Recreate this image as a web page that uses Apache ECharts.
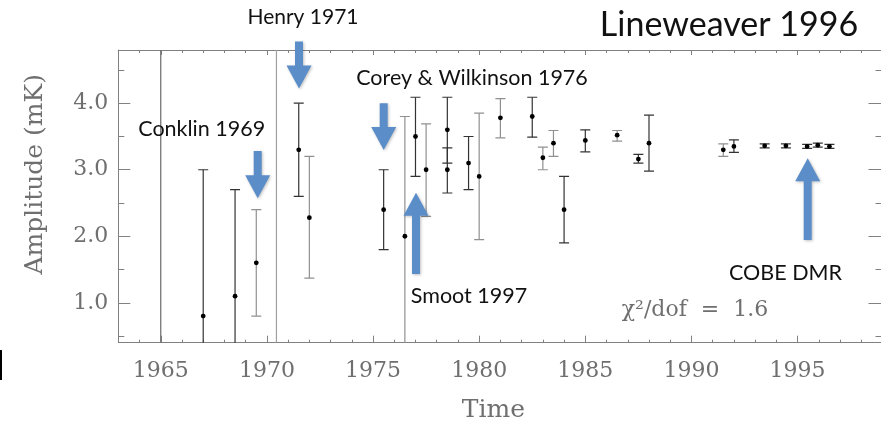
<!DOCTYPE html>
<html>
<head>
<meta charset="utf-8">
<script src="https://cdn.jsdelivr.net/npm/echarts@6/dist/echarts.min.js"></script>
<style>html,body{margin:0;padding:0;background:#fff}#c{width:881px;height:421px}</style>
</head>
<body>
<div id="c"></div>
<script>
// ---- data ----
const xTickLabels = [1965, 1970, 1975, 1980, 1985, 1990, 1995];
const yTickLabels = [1.0, 2.0, 3.0, 4.0];
const yMinorTicks = [0.5, 1.5, 2.5, 3.5, 4.5];

// measurements drawn in dark ink
const darkYears = [1967.0, 1968.5, 1971.5, 1975.5, 1977.0, 1978.5, 1978.5, 1979.5, 1982.5, 1984.0, 1985.0, 1987.5, 1988.0, 1992.0, 1993.45, 1994.45, 1995.45, 1995.95, 1996.5];
const darkAmp   = [0.80, 1.10, 3.30, 2.40, 3.50, 3.60, 3.00, 3.10, 3.80, 2.40, 3.44, 3.16, 3.40, 3.35, 3.36, 3.36, 3.35, 3.37, 3.35];
const darkLow   = [0.00, 0.00, 2.60, 1.80, 2.90, 3.10, 2.65, 2.70, 3.49, 1.90, 3.27, 3.10, 2.98, 3.26, 3.33, 3.33, 3.32, 3.34, 3.32];
const darkHigh  = [3.00, 2.70, 4.00, 3.00, 4.09, 4.09, 3.33, 3.50, 4.09, 2.90, 3.60, 3.23, 3.82, 3.45, 3.39, 3.39, 3.38, 3.40, 3.38];

// measurements drawn in grey ink
const greyYears = [1969.5, 1972.0, 1976.5, 1977.5, 1980.0, 1981.0, 1983.0, 1983.5, 1986.5, 1991.5];
const greyAmp   = [1.60, 2.28, 2.00, 3.00, 2.90, 3.78, 3.18, 3.40, 3.52, 3.30];
const greyLow   = [0.80, 1.37, 0.00, 2.30, 1.95, 3.48, 3.00, 3.20, 3.43, 3.20];
const greyHigh  = [2.40, 3.20, 3.80, 3.69, 3.85, 4.07, 3.34, 3.59, 3.59, 3.39];

// unbounded measurements (range spans the full plot)
const openYearsDark = [1965.0];
const openYearsGrey = [1970.45];
const openLow = 0.0, openHigh = 6.0;

// ---- chart ----
const X_MIN = 1963, X_MAX = 1999, Y_MIN = 0.4, Y_MAX = 4.8;
const AX = '#808080';
const LABEL = '#6f6f6f';
const SERIF = 'DejaVu Serif';
const SANS = 'Lato';
const ARROW = '#5b8ec9';

function zip4(x, v, lo, hi) { return x.map((d, i) => [d, v[i], lo[i], hi[i]]); }

function errRender(color) {
  return function (params, api) {
    const x = api.value(0), v = api.value(1), lo = api.value(2), hi = api.value(3);
    const t = api.coord([x, hi]), b = api.coord([x, lo]);
    const cw = 5;
    const st = { stroke: color, lineWidth: 1.2 };
    const ch = [
      { type: 'line', shape: { x1: t[0], y1: t[1], x2: b[0], y2: b[1] }, style: st },
      { type: 'line', shape: { x1: t[0] - cw, y1: t[1], x2: t[0] + cw, y2: t[1] }, style: st },
      { type: 'line', shape: { x1: b[0] - cw, y1: b[1], x2: b[0] + cw, y2: b[1] }, style: st }
    ];
    if (!isNaN(v)) {
      const p = api.coord([x, v]);
      ch.push({ type: 'circle', shape: { cx: p[0], cy: p[1], r: 2.4 }, style: { fill: '#000' } });
    }
    return { type: 'group', children: ch };
  };
}
function openRender(color) {
  return function (params, api) {
    const x = api.value(0);
    const t = api.coord([x, api.value(2)]), b = api.coord([x, api.value(1)]);
    return { type: 'line', shape: { x1: t[0], y1: t[1], x2: b[0], y2: b[1] }, style: { stroke: color, lineWidth: 1.2 } };
  };
}

function arrow(cx, tail, tip) {
  const dir = tip > tail ? 1 : -1;
  const hh = 23, hw = 12.5, sw = 4;
  const base = tip - dir * hh;
  return {
    type: 'polygon',
    shape: { points: [[cx - sw, tail], [cx + sw, tail], [cx + sw, base], [cx + hw, base], [cx, tip], [cx - hw, base], [cx - sw, base]] },
    style: { fill: ARROW, shadowBlur: 3, shadowColor: 'rgba(0,0,0,0.25)', shadowOffsetX: 1, shadowOffsetY: 1 },
    z: 100
  };
}
function note(text, cx, cy, size) {
  return { type: 'text', x: cx, y: cy, z: 101,
    style: { text: text, font: (size || 21.5) + 'px ' + SANS, fill: '#111', align: 'center', verticalAlign: 'middle' } };
}

const baseAxis = { min: X_MIN, max: X_MAX, type: 'value', splitLine: { show: false } };
const yBase = { min: Y_MIN, max: Y_MAX, type: 'value', splitLine: { show: false } };

const option = {
  backgroundColor: '#fff',
  animation: false,
  grid: { left: 118.3, top: 50, right: -1.5, bottom: 78.3, containLabel: false, outerBoundsMode: 'none' },
  xAxis: [
    Object.assign({}, baseAxis, {
      position: 'bottom',
      name: 'Time', nameLocation: 'middle', nameGap: 55,
      nameTextStyle: { fontFamily: SERIF, fontSize: 25, color: LABEL, padding: [0, 14, 0, 0] },
      axisLine: { show: true, lineStyle: { color: AX } },
      axisTick: { show: true, inside: true, length: 7, customValues: xTickLabels, lineStyle: { color: AX } },
      axisLabel: { show: true, customValues: xTickLabels, margin: 18, fontFamily: SERIF, fontSize: 22, color: LABEL, formatter: v => String(v) }
    }),
    Object.assign({}, baseAxis, {
      position: 'bottom', interval: 1,
      axisLine: { show: false }, axisLabel: { show: false },
      axisTick: { show: true, inside: true, length: 3, lineStyle: { color: AX } }
    }),
    Object.assign({}, baseAxis, {
      position: 'top',
      axisLine: { show: true, lineStyle: { color: AX } }, axisLabel: { show: false },
      axisTick: { show: true, inside: true, length: 5, customValues: xTickLabels, lineStyle: { color: AX } }
    }),
    Object.assign({}, baseAxis, {
      position: 'top', interval: 1,
      axisLine: { show: false }, axisLabel: { show: false },
      axisTick: { show: true, inside: true, length: 3, lineStyle: { color: AX } }
    })
  ],
  yAxis: [
    Object.assign({}, yBase, {
      position: 'left',
      name: 'Amplitude (mK)', nameLocation: 'middle', nameGap: 70,
      nameTextStyle: { fontFamily: SERIF, fontSize: 25, color: LABEL, padding: [0, 0, 0, 44] },
      axisLine: { show: true, lineStyle: { color: AX } },
      axisTick: { show: true, inside: true, length: 12, customValues: yTickLabels, lineStyle: { color: AX } },
      axisLabel: { show: true, customValues: yTickLabels, margin: 10, fontFamily: SERIF, fontSize: 22, color: LABEL, formatter: v => v.toFixed(1) }
    }),
    Object.assign({}, yBase, {
      position: 'left',
      axisLine: { show: false }, axisLabel: { show: false },
      axisTick: { show: true, inside: true, length: 6, customValues: yMinorTicks, lineStyle: { color: AX } }
    }),
    Object.assign({}, yBase, {
      position: 'right',
      axisLine: { show: true, lineStyle: { color: AX } }, axisLabel: { show: false },
      axisTick: { show: true, inside: true, length: 14, customValues: yTickLabels, lineStyle: { color: AX } }
    }),
    Object.assign({}, yBase, {
      position: 'right',
      axisLine: { show: false }, axisLabel: { show: false },
      axisTick: { show: true, inside: true, length: 7, customValues: yMinorTicks, lineStyle: { color: AX } }
    })
  ],
  series: [
    { type: 'custom', name: 'open dark', clip: true, xAxisIndex: 0, yAxisIndex: 0,
      data: openYearsDark.map(x => [x, openLow, openHigh]), renderItem: openRender('#6a6a6a') },
    { type: 'custom', name: 'open grey', clip: true, xAxisIndex: 0, yAxisIndex: 0,
      data: openYearsGrey.map(x => [x, openLow, openHigh]), renderItem: openRender('#a0a0a0') },
    { type: 'custom', name: 'grey', clip: true, xAxisIndex: 0, yAxisIndex: 0,
      data: zip4(greyYears, greyAmp, greyLow, greyHigh), renderItem: errRender('#909090') },
    { type: 'custom', name: 'dark', clip: true, xAxisIndex: 0, yAxisIndex: 0,
      data: zip4(darkYears, darkAmp, darkLow, darkHigh), renderItem: errRender('#333333') }
  ],
  graphic: [
    arrow(299, 41.5, 88.5),
    arrow(257.7, 151, 198.3),
    arrow(383.7, 103.3, 150),
    arrow(416, 274, 192.7),
    arrow(807.7, 240, 158.3),
    note('Lineweaver 1996', 729, 25, 34),
    note('Henry 1971', 303, 17.5, 21),
    note('Conklin 1969', 201.7, 129),
    note('Corey & Wilkinson 1976', 472, 78.3),
    note('Smoot 1997', 469, 296.3),
    note('COBE DMR', 785.5, 272.8),
    { type: 'text', x: 695, y: 310, z: 101,
      style: { text: 'χ²/dof  =  1.6', font: '22px ' + SERIF, fill: LABEL, align: 'center', verticalAlign: 'middle' } },
    { type: 'rect', shape: { x: 0, y: 350, width: 2, height: 30 }, style: { fill: '#000' } }
  ]
};

const chart = echarts.init(document.getElementById('c'), null, { renderer: 'canvas' });
chart.setOption(option);
</script>
</body>
</html>
